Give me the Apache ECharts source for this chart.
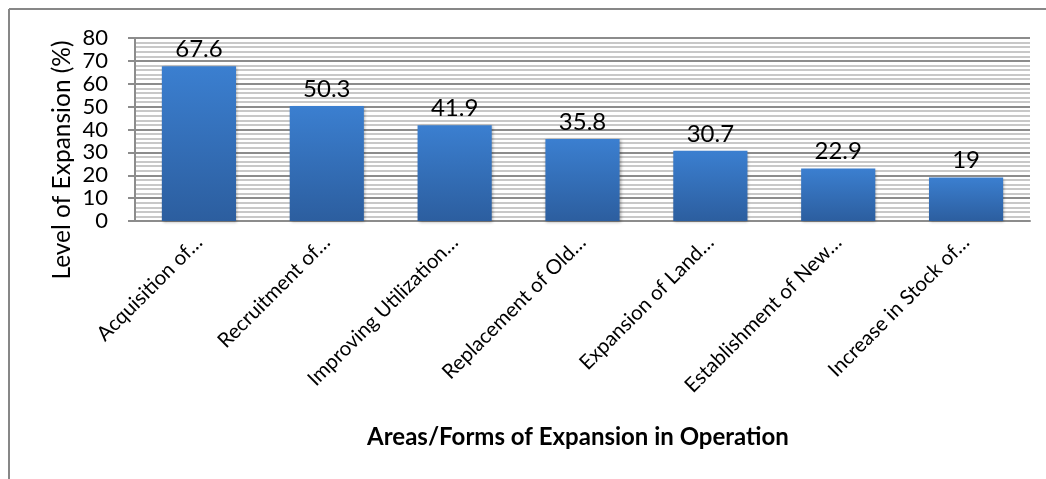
<!DOCTYPE html>
<html>
<head>
<meta charset="utf-8">
<script src="https://cdn.jsdelivr.net/npm/echarts@6/dist/echarts.min.js"></script>
<style>
html,body{margin:0;padding:0;background:#fff;}
#chart{width:1046px;height:479px;}
</style>
</head>
<body>
<div id="chart"></div>
<script>
var categories = ["Acquisition of…", "Recruitment of…", "Improving Utilization…", "Replacement of Old…", "Expansion of Land…", "Establishment of New…", "Increase in Stock of…"];
var values = [67.6, 50.3, 41.9, 35.8, 30.7, 22.9, 19];
var yTicks = [0, 10, 20, 30, 40, 50, 60, 70, 80];
var yAxisTitle = "Level of Expansion (%)";
var xAxisTitle = "Areas/Forms of Expansion in Operation";

var font = "Lato, 'Open Sans', sans-serif";
var chart = echarts.init(document.getElementById('chart'), null, {renderer: 'canvas'});
chart.setOption({
  animation: false,
  backgroundColor: '#ffffff',
  grid: {left: 135, right: 16, top: 38, bottom: 258, containLabel: false},
  xAxis: {
    type: 'category',
    data: categories,
    axisLine: {show: true, lineStyle: {color: '#8c8c8c', width: 2}},
    axisTick: {show: false},
    axisLabel: {rotate: 45, margin: 18, fontSize: 20.5, color: '#000', fontFamily: font, interval: 0}
  },
  yAxis: {
    type: 'value',
    min: yTicks[0],
    max: yTicks[yTicks.length - 1],
    interval: 10,
    axisLine: {show: true, lineStyle: {color: '#8c8c8c', width: 2}},
    axisTick: {show: true, inside: false, length: 7, lineStyle: {color: '#8c8c8c', width: 2}},
    axisLabel: {fontSize: 22, lineHeight: 20, color: '#000', fontFamily: font, margin: 27, showMinLabel: true, showMaxLabel: true},
    splitLine: {show: true, lineStyle: {color: '#8c8c8c', width: 2}},
    minorTick: {show: false, splitNumber: 5},
    minorSplitLine: {show: true, lineStyle: {color: '#c8c8c8', width: 2}}
  },
  series: [{
    type: 'bar',
    data: values,
    barWidth: '58%',
    itemStyle: {
      color: new echarts.graphic.LinearGradient(0, 0, 0, 1, [
        {offset: 0, color: '#3b7fd0'},
        {offset: 1, color: '#2c5e9f'}
      ]),
      shadowColor: 'rgba(0,0,0,0.35)',
      shadowBlur: 3,
      shadowOffsetX: 1,
      shadowOffsetY: 1
    },
    label: {show: true, position: 'top', distance: 5, fontSize: 24, color: '#000', fontFamily: font}
  }],
  graphic: [
    {type: 'line', shape: {x1: 9, y1: 9, x2: 1046, y2: 9}, style: {stroke: '#878787', lineWidth: 2}},
    {type: 'line', shape: {x1: 9, y1: 9, x2: 9, y2: 479}, style: {stroke: '#878787', lineWidth: 2}},
    {type: 'text', x: 62, y: 160, rotation: Math.PI / 2, style: {text: yAxisTitle, fontSize: 24.5, fontFamily: font, fill: '#000', align: 'center', verticalAlign: 'middle'}},
    {type: 'text', x: 578, y: 437, style: {text: xAxisTitle, fontSize: 24, fontWeight: 'bold', fontFamily: font, fill: '#000', align: 'center', verticalAlign: 'middle'}}
  ]
});
</script>
</body>
</html>
